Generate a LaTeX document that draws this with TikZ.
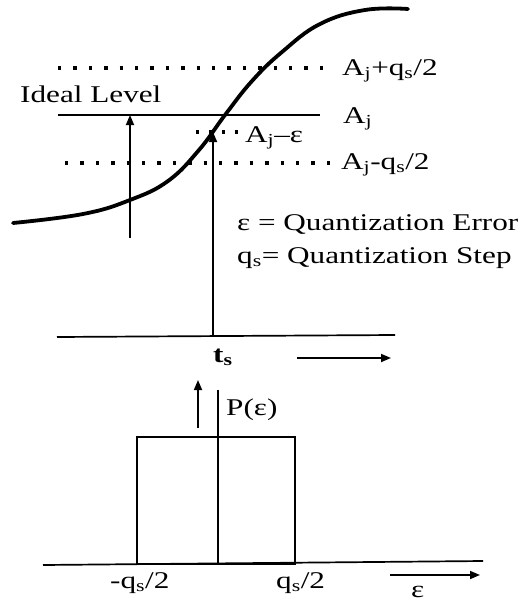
\documentclass[tikz,border=0pt]{standalone}
\usepackage{fontspec}
\setmainfont{Liberation Serif}[FakeStretch=1.3]
\usetikzlibrary{arrows.meta}
\begin{document}
\begin{tikzpicture}[x=1pt,y=-1pt,
  lbl/.style={font=\fontsize{24}{28}\selectfont, inner sep=0pt, anchor=base west},
  solidline/.style={line width=1.7pt},
  dotline/.style={line width=3.4pt, dash pattern=on 3.4pt off 12pt},
  arr/.style={line width=1.7pt, -{Triangle[length=10pt,width=8pt]}},
  curveline/.style={line width=3.8pt, line cap=round}]
\useasboundingbox (0,0) rectangle (530,602);

% coordinates
\coordinate (up1) at (58,68);   \coordinate (up2) at (332,68);
\coordinate (aj1) at (58,115);  \coordinate (aj2) at (320,115);
\coordinate (ae1) at (196,132); \coordinate (ae2) at (242,132);
\coordinate (lo1) at (65,163);  \coordinate (lo2) at (336,163);
\coordinate (la0) at (130,238); \coordinate (la1) at (130,115);
\coordinate (ma1) at (213,132);
\coordinate (ta1) at (57,337);  \coordinate (ta2) at (395,335);
\coordinate (ts)  at (213,336);
\coordinate (tr1) at (297,358); \coordinate (tr2) at (391,358);
\coordinate (pu1) at (198,428); \coordinate (pu2) at (198,380);
\coordinate (pv1) at (218,390); \coordinate (pv2) at (218,564);
\coordinate (ea1) at (43,565);  \coordinate (ea2) at (483,561);
\coordinate (er1) at (390,575); \coordinate (er2) at (480,575);
\coordinate (rl)  at (137,564); \coordinate (rr) at (295,437);

% sigmoid curve
\draw[curveline] plot[smooth, tension=0.7] coordinates {(13,223) (83,214) (130,200) (168,181) (199,150) (225,115) (252,81) (282,52) (320,24) (365,10) (408,9)};

% levels
\draw[dotline] (up1) -- (up2);
\draw[solidline] (aj1) -- (aj2);
\draw[dotline, dash pattern=on 3.4pt off 9.5pt] (ae1) -- (ae2);
\draw[dotline] (lo1) -- (lo2);

% arrows
\draw[arr] (la0) -- (la1);
\draw[arr] (ts) -- (ma1);
\draw[solidline] (ta1) -- (ta2);
\draw[arr] (tr1) -- (tr2);

% labels top
\node[lbl] (ideal) at (20,102) {Ideal Level};
\node[lbl] (lup) at (342,75) {A\textsubscript{j}+q\textsubscript{s}/2};
\node[lbl] (laj) at (343,123) {A\textsubscript{j}};
\node[lbl] (lae) at (245,142) {A\textsubscript{j}–ε};
\node[lbl] (llo) at (341,169) {A\textsubscript{j}-q\textsubscript{s}/2};
\node[lbl] (qe) at (237,230) {ε = Quantization Error};
\node[lbl] (qs) at (237,263) {q\textsubscript{s}= Quantization Step};
\node[lbl] (lts) at (213,362) {\textbf{t}\textsubscript{\textbf{s}}};

% distribution
\draw[solidline] (rl) rectangle (rr);
\draw[solidline] (pv1) -- (pv2);
\draw[solidline] (ea1) -- (ea2);
\draw[arr] (pu1) -- (pu2);
\draw[arr] (er1) -- (er2);
\node[lbl] (lp) at (226,415) {P(ε)};
\node[lbl] (lm) at (110,588) {-q\textsubscript{s}/2};
\node[lbl] (lq) at (276,588) {q\textsubscript{s}/2};
\node[lbl] (leps) at (411,597) {ε};
\end{tikzpicture}
\end{document}
